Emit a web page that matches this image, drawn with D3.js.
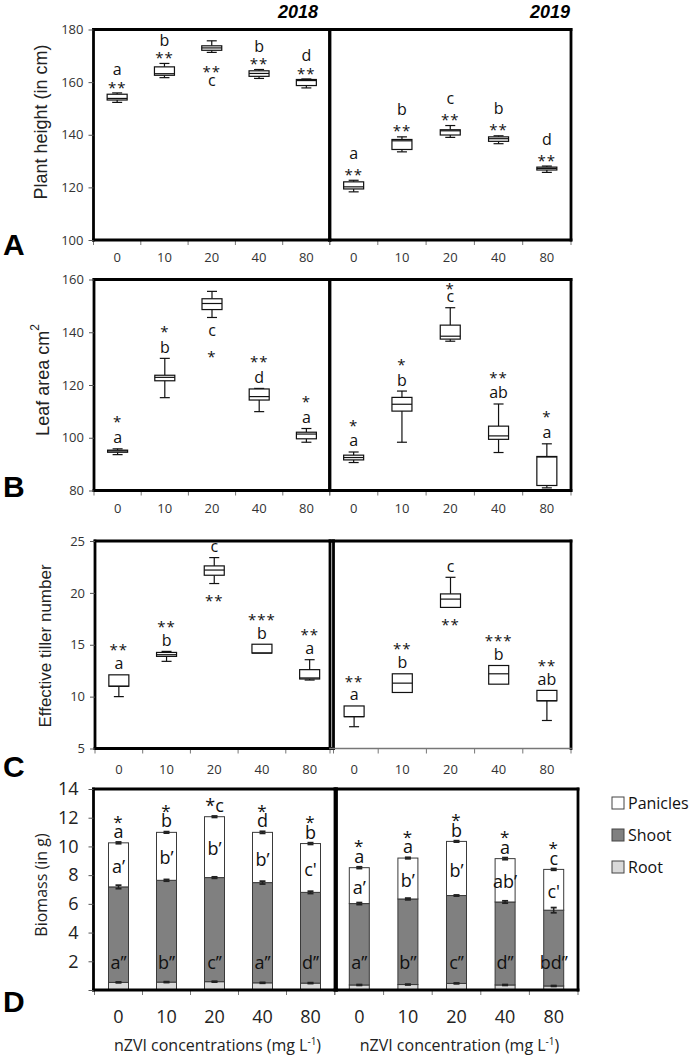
<!DOCTYPE html>
<html><head><meta charset="utf-8">
<script src="https://cdn.jsdelivr.net/npm/d3@7"></script>
<style>body{margin:0;background:#fff}svg{display:block}</style>
</head><body>
<svg id="chart" width="694" height="1057"></svg>
<script>
// ---------------- DATA ----------------
const doses = ["0", "10", "20", "40", "80"];
const years = ["2018", "2019"];

// A: Plant height (cm) — box stats [min, q1, median, q3, max]
const height2018 = [[152.3,153.2,153.8,155.4,155.9],[161.7,162.6,163.2,165.8,167.1],[171.3,172.1,173.0,173.8,175.7],[161.4,162.2,163.3,164.3,164.8],[157.8,158.7,160.6,161.0,161.2]];
const height2019 = [[118.3,119.4,120.2,122.1,122.7],[133.5,134.4,137.7,138.2,139.2],[139.0,139.9,141.5,141.9,143.5],[136.6,137.5,138.5,139.2,139.6],[125.7,126.6,127.2,127.7,128.1]];
const heightTicks = [100, 120, 140, 160, 180];
const heightNotes2018 = [{above:["a","**"]},{above:["b","**"]},{below:["**","c"]},{above:["b","**"]},{above:["d","**"]}];
const heightNotes2019 = [{above:["a","**"]},{above:["b","**"]},{above:["c","**"]},{above:["b","**"]},{above:["d","**"]}];

// B: Leaf area (cm2)
const leaf2018 = [[93.6,94.5,95.0,95.3,95.8],[115.2,121.6,122.9,123.7,130.1],[145.6,148.6,150.9,152.7,155.5],[109.9,114.3,115.6,118.5,118.7],[98.3,99.6,101.4,102.1,103.5]];
const leaf2019 = [[90.6,91.6,92.5,93.4,94.6],[98.3,110.1,112.7,115.3,117.7],[136.6,137.4,138.5,142.7,149.3],[94.4,99.4,100.7,104.4,112.8],[81.0,81.9,92.7,92.9,97.7]];
const leafTicks = [80, 100, 120, 140, 160];
const leafNotes2018 = [{above:["*","a"]},{above:["*","b"]},{below:["c","*"]},{above:["**","d"]},{above:["*","a"]}];
const leafNotes2019 = [{above:["*","a"]},{above:["*","b"]},{above:["*","c"]},{above:["**","ab"]},{above:["*","a"]}];

// C: Effective tiller number
const tiller2018 = [[10.0,11.0,11.0,12.1,12.1],[13.4,13.88,14.04,14.26,14.36],[20.9,21.7,22.2,22.6,23.4],[14.2,14.2,14.2,15.05,15.05],[11.6,11.7,11.8,12.6,13.56]];
const tiller2019 = [[7.1,8.07,8.07,9.1,9.1],[10.4,10.4,11.3,12.2,12.2],[18.6,18.6,19.4,19.9,21.5],[11.2,11.2,12.2,13.0,13.0],[7.7,9.6,9.6,10.6,10.6]];
const tillerTicks = [5, 10, 15, 20, 25];
const tillerNotes2018 = [{above:["**","a"]},{above:["**","b"]},{above:["c"],below:["**"]},{above:["***","b"]},{above:["**","a"]}];
const tillerNotes2019 = [{above:["**","a"]},{above:["**","b"]},{above:["c"],below:["**"]},{above:["***","b"]},{above:["**","ab"]}];

// D: Biomass (g), stacked
const parts = ["Root", "Shoot", "Panicles"];
const root2018 = [0.53, 0.55, 0.58, 0.50, 0.48];
const shoot2018 = [6.65, 7.09, 7.25, 6.98, 6.32];
const panicle2018 = [3.07, 3.34, 4.24, 3.50, 3.40];
const root2019 = [0.35, 0.38, 0.46, 0.35, 0.28];
const shoot2019 = [5.67, 5.96, 6.12, 5.78, 5.28];
const panicle2019 = [2.50, 2.85, 3.77, 3.02, 2.84];
const rootErr = [0.03, 0.03, 0.03, 0.03, 0.03];
const shootErr2018 = [0.12, 0.06, 0.05, 0.10, 0.08];
const shootErr2019 = [0.07, 0.06, 0.04, 0.08, 0.18];
const panicleErr = [0.06, 0.05, 0.05, 0.07, 0.06];
const biomassTicks = [0, 2, 4, 6, 8, 10, 12, 14];
const bioTop2018 = [["*","a"],["*","b"],["*c"],["*","d"],["*","b"]];
const bioPan2018 = ["a\u2019","b\u2019","b\u2019","b\u2019","c'"];
const bioShoot2018 = ["a\u2019\u2019","b\u2019\u2019","c\u2019\u2019","a\u2019\u2019","d\u2019\u2019"];
const bioTop2019 = [["*","a"],["*","a"],["*","b"],["*","a"],["*","c"]];
const bioPan2019 = ["a\u2019","b\u2019","b\u2019","ab\u2019","c'"];
const bioShoot2019 = ["a\u2019\u2019","b\u2019\u2019","c\u2019\u2019","d\u2019\u2019","bd\u2019\u2019"];

// ---------------- LAYOUT ----------------
const SANS = "'Open Sans', sans-serif";
const ARIAL = "'Liberation Sans', Arial, sans-serif";
const svg = d3.select("#chart");

const layoutA = {top:29.5, bottom:240, left:[93.5,330], right:[329.5,571], tickY:262, gap:10, spacing:[13,17], gapBelow:15, spacingBelow:13,
  title:"Plant  height  (in cm)", titleSize:18, titleX:41, titleY:122, letter:"A", letterY:255};
const layoutB = {top:279.5, bottom:490.5, left:[94,330], right:[329.5,571], tickY:513, gap:11, spacing:[20,20], gapBelow:13, spacingBelow:22,
  title:"Leaf  area  cm", sup:"2", titleSize:18, titleX:43, titleY:380, letter:"B", letterY:497};
const layoutC = {top:541, bottom:748.5, left:[95,333.5], right:[330,571], tickY:774, gap:11, spacing:[18,18], gapBelow:13, spacingBelow:13,
  title:"Effective  tiller  number", titleSize:17, titleX:45, titleY:646, letter:"C", letterY:777, grayBottomRight:true};

function noteText(g, txt, cx, cy, fs) {
  const isStar = /^\*+$/.test(txt);
  g.append("text")
    .attr("x", cx).attr("y", cy + (isStar ? 0.6 : 0.34) * fs)
    .attr("text-anchor", "middle")
    .attr("font-family", SANS).attr("font-size", isStar ? fs - 1 : fs)
    .attr("letter-spacing", isStar ? 1 : 0)
    .attr("fill", "#111").text(txt);
}

function frame(g, x0, x1, y0, y1, grayBottom) {
  const lines = [[x0,y0,x1,y0],[x1,y0,x1,y1],[x0,y0,x0,y1]];
  g.selectAll(null).data(lines).join("line")
    .attr("x1", d => d[0]).attr("y1", d => d[1]).attr("x2", d => d[2]).attr("y2", d => d[3])
    .attr("stroke", "#000").attr("stroke-width", 2.8).attr("stroke-linecap", "square");
  g.append("line").attr("x1", x0).attr("x2", x1).attr("y1", y1).attr("y2", y1)
    .attr("stroke", grayBottom ? "#777" : "#000").attr("stroke-width", grayBottom ? 1.6 : 2.8)
    .attr("stroke-linecap", "square");
}

function boxPanel(L, series, notes, ticks) {
  const g = svg.append("g");
  const y = d3.scaleLinear().domain([ticks[0], ticks[ticks.length - 1]]).range([L.bottom, L.top]);
  [L.left, L.right].forEach((rng, k) => {
    const x = d3.scaleBand().domain(doses).range(rng);
    const bw = x.bandwidth();
    const grp = g.append("g");
    const boxes = grp.selectAll("g.box").data(series[k]).join("g").attr("class", "box")
      .attr("transform", (d, i) => `translate(${x(doses[i]) + bw / 2},0)`);
    boxes.each(function (s) {
      const [mn, q1, md, q3, mx] = s;
      const b = d3.select(this);
      const seg = (x1, y1, x2, y2) => b.append("line").attr("x1", x1).attr("y1", y1).attr("x2", x2).attr("y2", y2)
        .attr("stroke", "#111").attr("stroke-width", 1.2);
      if (mx > q3) { seg(0, y(q3), 0, y(mx)); seg(-5, y(mx), 5, y(mx)); }
      if (mn < q1) { seg(0, y(q1), 0, y(mn)); seg(-5, y(mn), 5, y(mn)); }
      b.append("rect").attr("x", -10).attr("width", 20).attr("y", y(q3)).attr("height", Math.max(0.5, y(q1) - y(q3)))
        .attr("fill", "#fff").attr("stroke", "#111").attr("stroke-width", 1.2);
      seg(-10, y(md), 10, y(md));
    });
    // annotations
    notes[k].forEach((n, i) => {
      const cx = x(doses[i]) + bw / 2;
      const s = series[k][i];
      if (n.above) {
        const nearest = y(s[4]) - L.gap;
        let sp = L.spacing[k];
        const cnt = n.above.length;
        if (cnt > 1 && nearest - (cnt - 1) * sp < L.top + 5) sp = (nearest - (L.top + 5)) / (cnt - 1);
        n.above.forEach((t, j) => noteText(grp, t, cx, nearest - (cnt - 1 - j) * sp, 16));
      }
      if (n.below) {
        const first = y(s[0]) + L.gapBelow;
        n.below.forEach((t, j) => noteText(grp, t, cx, first + j * L.spacingBelow, 16));
      }
    });
    // x ticks at band edges
    const edges = doses.map(d => x(d)).concat([rng[1]]);
    grp.selectAll("line.xt").data(edges).join("line").attr("class", "xt")
      .attr("x1", d => d).attr("x2", d => d).attr("y1", L.bottom).attr("y2", L.bottom + 5)
      .attr("stroke", "#777").attr("stroke-width", 1);
    grp.selectAll("text.xl").data(doses).join("text").attr("class", "xl")
      .attr("x", d => x(d) + bw / 2).attr("y", L.tickY).attr("text-anchor", "middle")
      .attr("font-family", SANS).attr("font-size", 13).attr("fill", "#333").text(d => d);
    frame(grp, rng[0], rng[1], L.top, L.bottom, k === 1 && L.grayBottomRight);
  });
  // y axis
  const ax = g.append("g").attr("transform", `translate(${L.left[0]},0)`)
    .call(d3.axisLeft(y).tickValues(ticks).tickSize(5).tickPadding(5));
  ax.select(".domain").remove();
  ax.selectAll("line").attr("stroke", "#555");
  ax.selectAll("text").attr("font-family", SANS).attr("font-size", 13).attr("fill", "#333");
  // title
  const t = g.append("text").attr("transform", `translate(${L.titleX},${L.titleY}) rotate(-90)`)
    .attr("text-anchor", "middle").attr("dominant-baseline", "central")
    .attr("font-family", ARIAL).attr("font-size", L.titleSize).attr("fill", "#222").text(L.title);
  if (L.sup) t.append("tspan").attr("font-size", 12).attr("dy", -8).text(L.sup);
  g.append("text").attr("x", 3).attr("y", L.letterY).attr("font-family", ARIAL).attr("font-weight", "bold")
    .attr("font-size", 30).attr("fill", "#000").text(L.letter);
}

// Year titles
svg.selectAll("text.year").data(years).join("text").attr("class", "year")
  .attr("x", (d, i) => i === 0 ? 318 : 570).attr("y", 18).attr("text-anchor", "end")
  .attr("font-family", ARIAL).attr("font-weight", "bold").attr("font-style", "italic")
  .attr("font-size", 18).attr("fill", "#000").text(d => d);

boxPanel(layoutA, [height2018, height2019], [heightNotes2018, heightNotes2019], heightTicks);
boxPanel(layoutB, [leaf2018, leaf2019], [leafNotes2018, leafNotes2019], leafTicks);
boxPanel(layoutC, [tiller2018, tiller2019], [tillerNotes2018, tillerNotes2019], tillerTicks);

// ---------------- D: stacked biomass ----------------
const layoutD = {top:789, bottom:990, frames:[[93.5,336.5],[335,578]], ranges:[[94.5,334.5],[335,578]], tickY:1023,
  axisTitles:["nZVI concentrations (mg L", "nZVI concentration (mg L"]};
const colors = {Root:"#d9d9d9", Shoot:"#808080", Panicles:"#ffffff"};
const gD = svg.append("g");
const yD = d3.scaleLinear().domain([0, 14]).range([layoutD.bottom, layoutD.top]);
const bioSets = [
  {root: root2018, shoot: shoot2018, pan: panicle2018, sErr: shootErr2018, top: bioTop2018, panL: bioPan2018, shootL: bioShoot2018},
  {root: root2019, shoot: shoot2019, pan: panicle2019, sErr: shootErr2019, top: bioTop2019, panL: bioPan2019, shootL: bioShoot2019}
];
bioSets.forEach((S, k) => {
  const rng = layoutD.ranges[k];
  const x = d3.scaleBand().domain(doses).range(rng);
  const bw = x.bandwidth();
  const table = doses.map((d, i) => ({dose: d, Root: S.root[i], Shoot: S.shoot[i], Panicles: S.pan[i]}));
  const errs = {Root: rootErr, Shoot: S.sErr, Panicles: panicleErr};
  const stacked = d3.stack().keys(parts)(table);
  const grp = gD.append("g");
  stacked.forEach(layer => {
    grp.selectAll(null).data(layer).join("rect")
      .attr("x", d => x(d.data.dose) + bw / 2 - 10).attr("width", 20)
      .attr("y", d => yD(d[1])).attr("height", d => yD(d[0]) - yD(d[1]))
      .attr("fill", colors[layer.key]).attr("stroke", "#3a3a3a").attr("stroke-width", 1);
  });
  stacked.forEach(layer => {
    const e = errs[layer.key];
    const eb = grp.selectAll(null).data(layer).join("g")
      .attr("transform", d => `translate(${x(d.data.dose) + bw / 2},0)`);
    eb.append("line").attr("x1", 0).attr("x2", 0)
      .attr("y1", (d, i) => yD(d[1] - e[i])).attr("y2", (d, i) => yD(d[1] + e[i]))
      .attr("stroke", "#222").attr("stroke-width", 1.5);
    eb.append("line").attr("x1", -3).attr("x2", 3)
      .attr("y1", (d, i) => yD(d[1] + e[i])).attr("y2", (d, i) => yD(d[1] + e[i]))
      .attr("stroke", "#222").attr("stroke-width", 1.8);
    eb.append("line").attr("x1", -3).attr("x2", 3)
      .attr("y1", (d, i) => yD(d[1] - e[i])).attr("y2", (d, i) => yD(d[1] - e[i]))
      .attr("stroke", "#222").attr("stroke-width", 1.8);
  });
  // labels
  const totals = stacked[2];
  doses.forEach((d, i) => {
    const cx = x(d) + bw / 2;
    const nearest = yD(totals[i][1]) - 11;
    const arr = S.top[i];
    arr.forEach((t, j) => noteText(grp, t, cx, nearest - (arr.length - 1 - j) * 15, 18));
    const mid = (yD(totals[i][0]) + yD(totals[i][1])) / 2;
    noteText(grp, S.panL[i], cx, mid + 2, 18);
    noteText(grp, S.shootL[i], cx, yD(1.9), 18);
  });
  const edges = doses.map(d => x(d)).concat([rng[1]]);
  grp.selectAll("line.xt").data(edges).join("line").attr("class", "xt")
    .attr("x1", d => d).attr("x2", d => d).attr("y1", layoutD.bottom).attr("y2", layoutD.bottom + 5)
    .attr("stroke", "#777").attr("stroke-width", 1);
  grp.selectAll("text.xl").data(doses).join("text").attr("class", "xl")
    .attr("x", d => x(d) + bw / 2).attr("y", layoutD.tickY).attr("text-anchor", "middle")
    .attr("font-family", SANS).attr("font-size", 18).attr("fill", "#222").text(d => d);
  const fr = layoutD.frames[k];
  frame(grp, fr[0], fr[1], layoutD.top, layoutD.bottom, false);
  const at = grp.append("text").attr("x", (rng[0] + rng[1]) / 2 + 3).attr("y", 1051).attr("text-anchor", "middle")
    .attr("font-family", SANS).attr("font-size", 16).attr("fill", "#222").text(layoutD.axisTitles[k]);
  at.append("tspan").attr("font-size", 10).attr("dy", -6).text("-1");
  at.append("tspan").attr("dy", 6).text(")");
});
const axD = gD.append("g").attr("transform", `translate(${layoutD.frames[0][0]},0)`)
  .call(d3.axisLeft(yD).tickValues(biomassTicks).tickSize(5).tickPadding(10).tickFormat(v => v === 0 ? "" : v));
axD.select(".domain").remove();
axD.selectAll("line").attr("stroke", "#555");
axD.selectAll("text").attr("font-family", SANS).attr("font-size", 18).attr("fill", "#222");
gD.append("text").attr("transform", "translate(41,885) rotate(-90)").attr("text-anchor", "middle")
  .attr("dominant-baseline", "central").attr("font-family", SANS).attr("font-size", 16).attr("fill", "#222")
  .text("Biomass (in g)");
gD.append("text").attr("x", 3).attr("y", 1012).attr("font-family", ARIAL).attr("font-weight", "bold")
  .attr("font-size", 30).attr("fill", "#000").text("D");

// legend
const legendOrder = ["Panicles", "Shoot", "Root"];
const lg = gD.selectAll("g.leg").data(legendOrder).join("g").attr("class", "leg")
  .attr("transform", (d, i) => `translate(612,${803 + i * 32})`);
lg.append("rect").attr("x", 0).attr("y", -6).attr("width", 12).attr("height", 12)
  .attr("fill", d => colors[d]).attr("stroke", "#444").attr("stroke-width", 1);
lg.append("text").attr("x", 16).attr("y", 6).attr("font-family", SANS).attr("font-size", 16)
  .attr("fill", "#111").text(d => d);
</script>
</body></html>
